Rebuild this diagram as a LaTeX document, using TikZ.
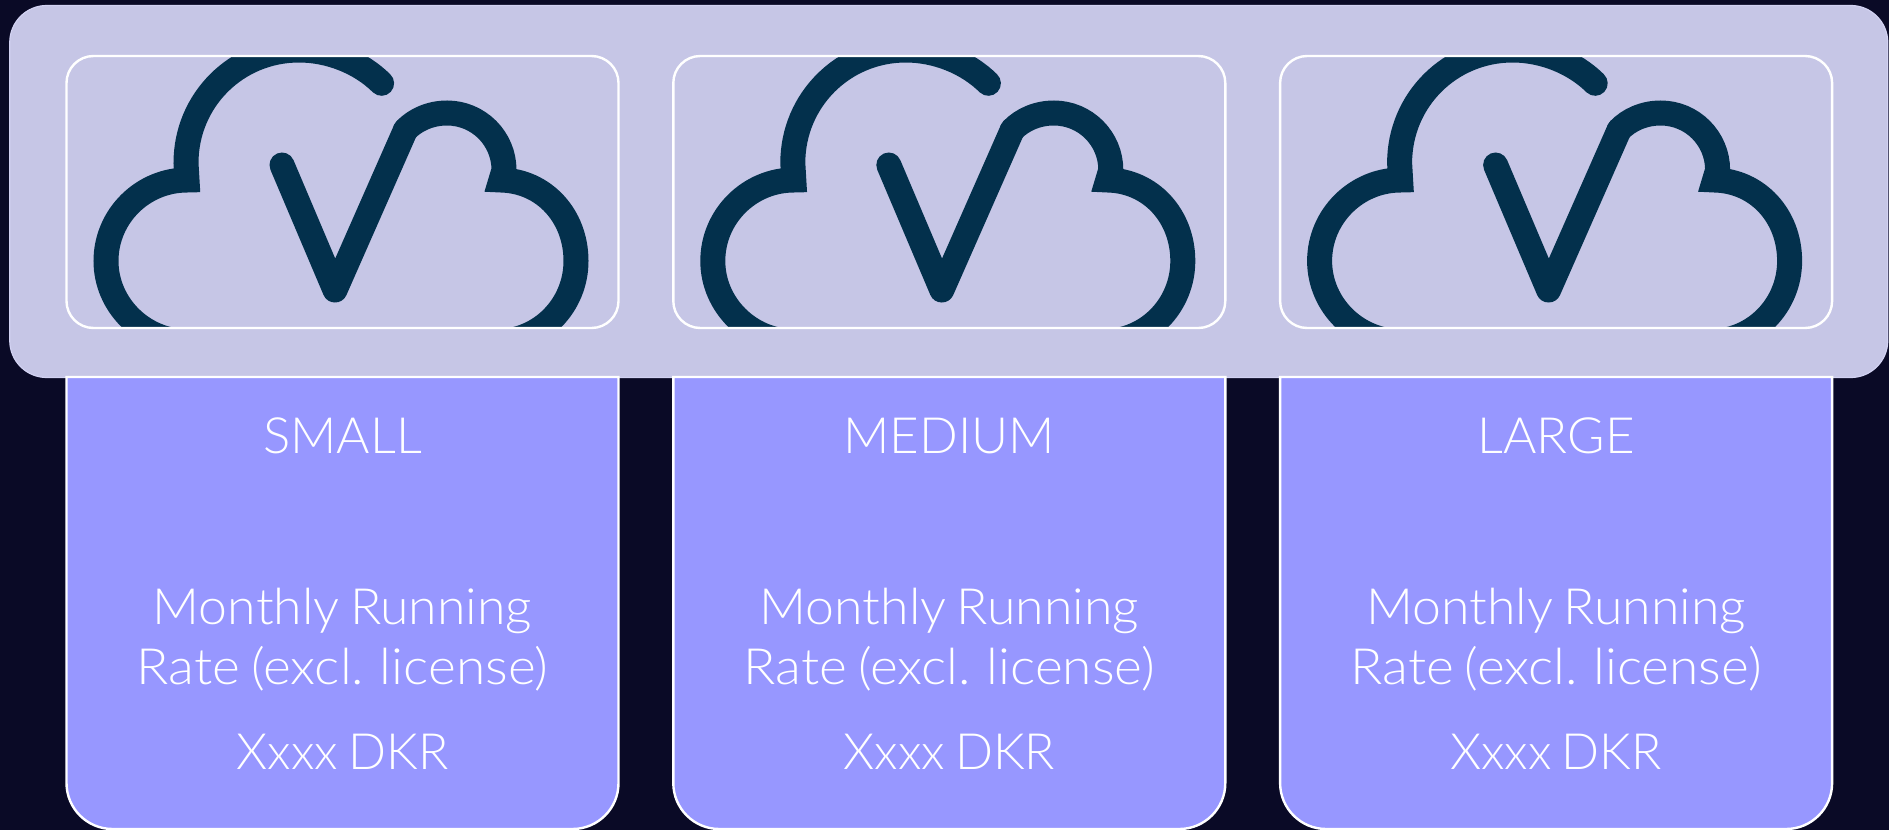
\documentclass[tikz,border=0pt]{standalone}
\usepackage{fontspec}
\setmainfont{Lato Light}
\newfontfamily\sizefont{Lato Light}[FakeStretch=1.02]
\newfontfamily\monthfont{Lato Light}[FakeStretch=1.035,WordSpace=0.75]
\newfontfamily\ratefont{Lato Light}[FakeStretch=1.066,WordSpace=0.75]
\newfontfamily\pricefont{Lato Light}[WordSpace=0.75]
\definecolor{bgc}{HTML}{0A0A26}
\definecolor{panelc}{HTML}{C6C6E6}
\definecolor{paneledge}{HTML}{D2D2F2}
\definecolor{cardc}{HTML}{9797FF}
\definecolor{logoc}{HTML}{03304C}
\tikzset{
  panelbox/.style={draw=paneledge,line width=1.2pt,fill=panelc,rounded corners=37pt,rectangle,inner sep=0pt,minimum width=1878pt,minimum height=372pt},
  logobox/.style={draw=white,line width=2.4pt,rounded corners=27pt,rectangle,inner sep=0pt,minimum width=552pt,minimum height=272pt},
  cardbox/.style={draw=white,line width=2.4pt,fill=cardc},
  logoline/.style={draw=logoc,line width=25pt,line cap=round},
  cardtext/.style={text=white,anchor=base,inner sep=0pt},
}
\newcommand{\txtsize}{\fontsize{50}{60}}
\begin{document}
\begin{tikzpicture}[x=1pt,y=-1pt]
\useasboundingbox (0,0) rectangle (1889,830);
\fill[bgc] (0,0) rectangle (1889,830);
\node[panelbox] (panel) at (948.75,191.5) {};
\foreach \i/\dx/\lab in {1/0/SMALL,2/606.8/MEDIUM,3/1213.6/LARGE}{
  \begin{scope}[shift={(\dx,0)}]
    \draw[cardbox] (66.5,377) -- (66.5,783) [rounded corners=46pt] -- (66.5,829) -- (618.5,829) [sharp corners] -- (618.5,783) -- (618.5,377) -- cycle;
    \begin{scope}
      \clip[rounded corners=27pt] (66.5,56) rectangle (618.5,328);
      \draw[logoline,line join=miter]
        (381.6,83.3) .. controls (360,62) and (329,50) .. (299,50)
        .. controls (236.6,50) and (186,100) .. (186,163) -- (187,180)
        .. controls (143,180) and (106,216) .. (106,261)
        .. controls (106,305) and (143,341.5) .. (187,341.5) -- (497,341.5)
        .. controls (541,341.5) and (576,305) .. (576,261)
        .. controls (576,216) and (544,181) .. (501,180) -- (504,170)
        .. controls (504,138.5) and (478.5,113) .. (447,113)
        .. controls (430,113) and (415,120) .. (405.5,130);
      \draw[logoline,line join=round] (405.5,130) -- (335,290) -- (282,165);
    \end{scope}
    \node[logobox] (box\i) at (342.5,192) {};
    \node[cardtext] (size\i) at (342.5,453.3) {\txtsize\sizefont\selectfont \lab};
    \node[cardtext] (rateA\i) at (342.5,624) {\txtsize\monthfont\selectfont Monthly Running};
    \node[cardtext] (rateB\i) at (342.5,684) {\txtsize\ratefont\selectfont Rate (excl. license)};
    \node[cardtext] (price\i) at (342.5,769) {\txtsize\pricefont\selectfont Xxxx DKR};
  \end{scope}
}
\end{tikzpicture}
\end{document}
